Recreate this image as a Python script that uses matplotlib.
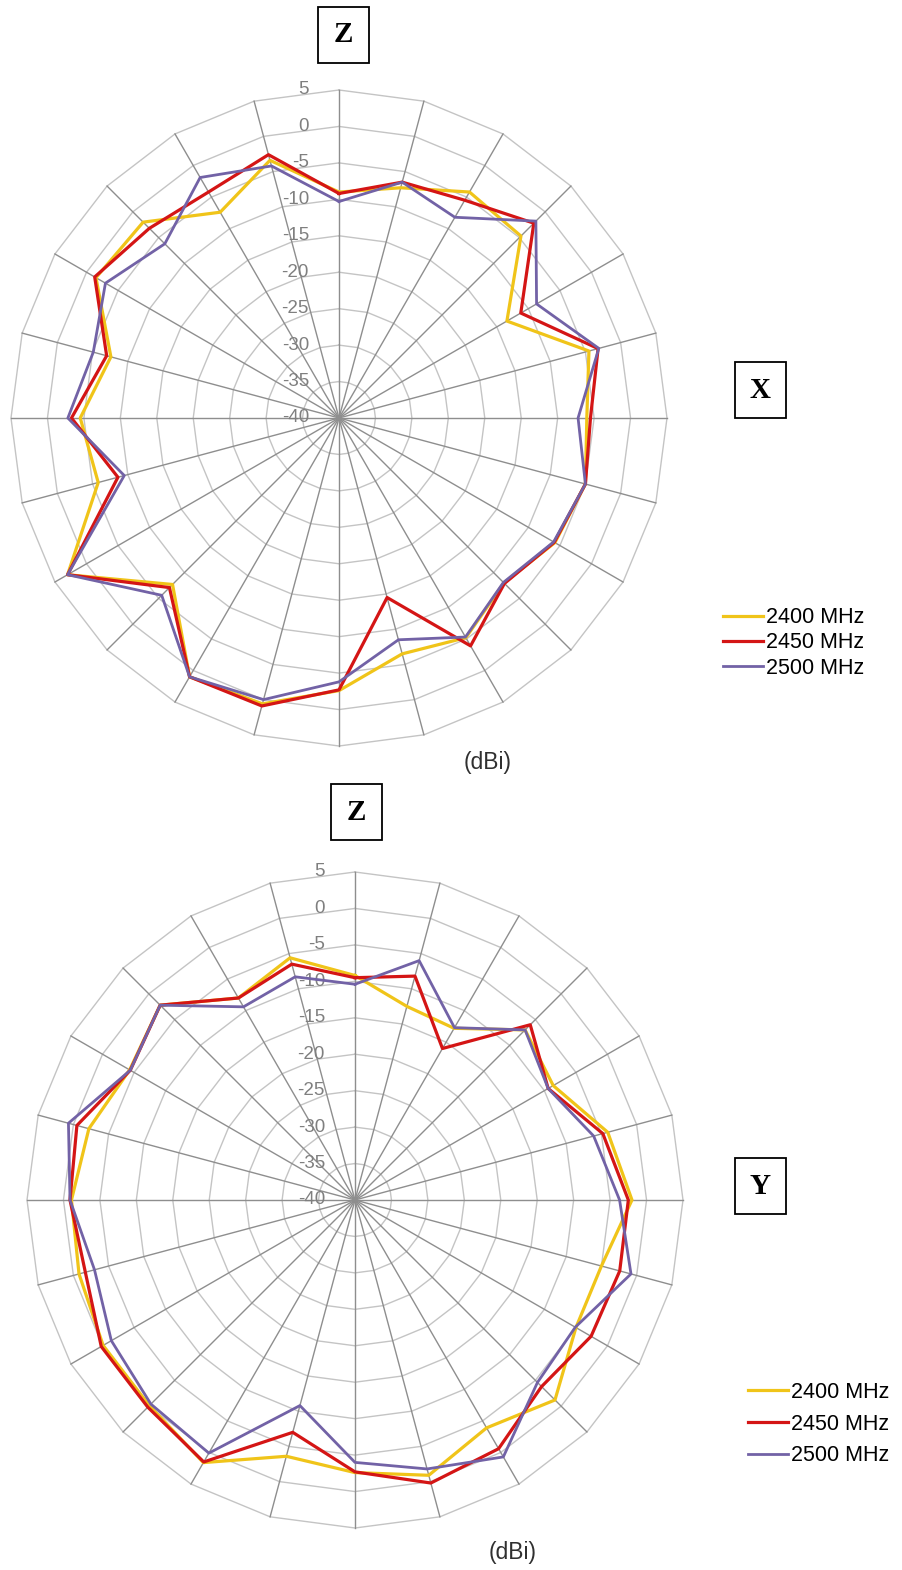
import numpy as np
import matplotlib
matplotlib.use("Agg")
import matplotlib.pyplot as plt
from matplotlib.patches import Rectangle

# categories: 24 directions, 15 degrees apart, clockwise from the top
angles_deg = list(range(0, 360, 15))
ring_values = [-35, -30, -25, -20, -15, -10, -5, 0, 5]
ring_labels = ["5", "0", "-5", "-10", "-15", "-20", "-25", "-30", "-35", "-40"]
series_names = ["2400 MHz", "2450 MHz", "2500 MHz"]

# XZ plane (dBi)
xz_2400 = [-9.0, -7.3, -4.2, -4.7, -13.4, -4.5, -6.0, -5.0, -5.8, -8.0, -5.2, -6.5,
           -2.6, 0.6, 1.0, -7.7, 3.0, -5.8, -4.5, -7.6, -1.5, -2.0, -7.4, -3.4]
xz_2450 = [-9.2, -6.5, -5.5, -2.2, -11.2, -3.2, -5.5, -5.0, -5.9, -7.9, -3.9, -14.5,
           -2.7, 0.9, 1.0, -7.1, 3.0, -8.6, -3.3, -7.0, -1.3, -3.2, -4.2, -2.6]
xz_2500 = [-10.3, -6.5, -8.2, -1.8, -8.7, -3.1, -7.2, -5.0, -6.0, -8.1, -5.3, -8.5,
           -3.8, 0.0, 1.0, -5.6, 3.0, -9.5, -2.8, -5.1, -3.0, -6.2, -1.9, -4.2]

# YZ plane (dBi)
yz_2400 = [-9.2, -12.5, -12.8, -7.0, -8.6, -4.1, -2.0, -5.0, -5.0, -1.2, -3.9, -0.9,
           -2.6, -3.6, 1.6, -0.1, -0.1, -0.8, -1.1, -2.2, -4.3, -2.2, -8.0, -5.6]
yz_2450 = [-9.5, -8.2, -16.0, -6.0, -9.4, -4.8, -2.5, -2.4, -2.6, -3.8, -0.6, 0.2,
           -2.7, -7.0, 1.5, 0.2, 0.2, -1.7, -0.9, -0.5, -4.4, -2.2, -8.0, -6.5]
yz_2500 = [-10.4, -6.0, -12.7, -7.0, -9.4, -6.1, -3.7, -0.8, -5.1, -4.6, 0.7, -1.8,
           -4.0, -10.8, 0.1, -0.4, -1.4, -3.0, -0.9, 0.7, -4.4, -2.2, -9.4, -8.3]

colors = ["#F0C419", "#D41515", "#7262A6"]
widths = [2.3, 2.3, 2.0]
sans = ["Liberation Sans", "DejaVu Sans"]
serif = ["Liberation Serif", "DejaVu Serif"]

W, H = 902, 1570
fig = plt.figure(figsize=(W / 100, H / 100), dpi=100)
fig.patch.set_facecolor("white")


def radar(cx, cy, radius, series):
    """cx, cy, radius in pixels (y from the top)"""
    ax = fig.add_axes([(cx - radius) / W, (H - cy - radius) / H, 2 * radius / W, 2 * radius / H],
                      projection="polar")
    ax.set_theta_zero_location("N")
    ax.set_theta_direction(-1)
    ax.set_ylim(-40, 5)
    ax.grid(False)
    ax.set_xticks([])
    ax.set_yticks([])
    ax.spines["polar"].set_visible(False)
    ax.patch.set_alpha(0)

    theta = np.deg2rad(angles_deg + [angles_deg[0]])
    for r in ring_values:
        ax.plot(theta, [r] * len(theta), color="#C4C4C4", lw=1.0, clip_on=False, zorder=1)
    for t in theta[:-1]:
        ax.plot([t, t], [-40, 5], color="#8E8E8E", lw=1.0, clip_on=False, zorder=1.5)

    for i, lab in enumerate(ring_labels):
        ax.annotate(lab, xy=(0, 5 - 5 * i), xytext=(-30, 0), textcoords="offset pixels",
                    ha="right", va="center", color="#7F7F7F", fontsize=13.5, family=sans,
                    annotation_clip=False, zorder=2)

    handles = []
    for vals, c, lw, name in zip(series, colors, widths, series_names):
        line, = ax.plot(theta, vals + [vals[0]], color=c, lw=lw, label=name,
                        clip_on=False, zorder=3)
        handles.append(line)
    return handles


def boxed_letter(cx, cy, letter, w=51, h=56):
    fig.add_artist(Rectangle(((cx - w / 2) / W, (H - cy - h / 2) / H), w / W, h / H,
                             transform=fig.transFigure, fill=False, ec="black", lw=1.3))
    fig.text(cx / W, (H - cy) / H, letter, ha="center", va="center", fontsize=21,
             fontweight="bold", family=serif)


h1 = radar(339, 418, 328, [xz_2400, xz_2450, xz_2500])
h2 = radar(355, 1200, 328, [yz_2400, yz_2450, yz_2500])

boxed_letter(343.5, 35, "Z")
boxed_letter(760, 390, "X")
boxed_letter(356.5, 812, "Z")
boxed_letter(760, 1186, "Y")

fig.text(488 / W, (H - 763) / H, "(dBi)", ha="center", va="center", fontsize=16.5,
         color="#303030", family=sans)
fig.text(513 / W, (H - 1553) / H, "(dBi)", ha="center", va="center", fontsize=16.5,
         color="#303030", family=sans)

fig.legend(h1, series_names, loc="center left", bbox_to_anchor=(723 / W, (H - 643) / H),
           frameon=False, borderpad=0, borderaxespad=0, handlelength=1.85, handletextpad=0.15,
           labelspacing=0.2, prop={"family": sans, "size": 15.5})
fig.legend(h2, series_names, loc="center left", bbox_to_anchor=(748 / W, (H - 1424) / H),
           frameon=False, borderpad=0, borderaxespad=0, handlelength=1.85, handletextpad=0.15,
           labelspacing=0.5, prop={"family": sans, "size": 15.5})

fig.savefig("out.png", dpi=100, facecolor="white")
